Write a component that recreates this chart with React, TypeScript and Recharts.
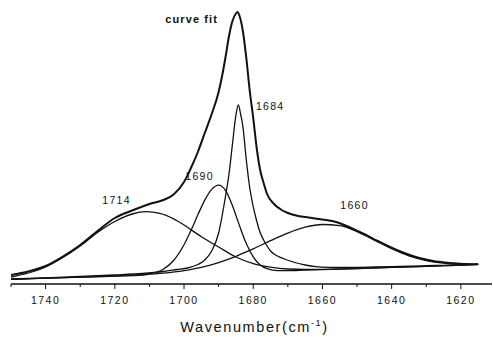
import { LineChart, Line, XAxis, YAxis, ReferenceDot } from "recharts";

// ---------------------------------------------------------------------------
// Data (intensity in arbitrary units)
// ---------------------------------------------------------------------------
const fitWavenumber = [
  1750, 1745, 1740, 1735, 1730, 1725, 1720, 1715, 1710, 1706, 1703, 1700, 1698,
  1696, 1694, 1692, 1690, 1689, 1688, 1687, 1686, 1685, 1684.5, 1684, 1683, 1682,
  1681, 1680, 1679, 1678, 1677, 1676, 1674, 1672, 1670, 1667, 1664, 1660, 1656,
  1652, 1648, 1644, 1640, 1636, 1632, 1628, 1624, 1620, 1615,
];
const fitIntensity = [
  9, 12.5, 18, 27.5, 39, 53, 66, 73.5, 80, 84, 89.5, 102, 116, 132, 151, 170, 192,
  208, 227, 248, 263, 270.5, 272, 268.5, 253, 226, 193, 166, 136, 114, 101, 90, 80,
  74.5, 71, 68, 66.5, 64.5, 62, 56.5, 50, 43, 36.3, 30.5, 26, 23, 21.3, 20.3, 19.7,
];

const band1714Wavenumber = [
  1750, 1745, 1740, 1735, 1730, 1725, 1720, 1715, 1711, 1707, 1703, 1700, 1695,
  1690, 1685, 1680, 1675, 1670, 1665, 1660, 1650, 1640, 1630, 1620, 1615,
];
const band1714Intensity = [
  7, 11, 17, 26.5, 38, 51.5, 62.5, 70, 72.3, 70.6, 65.1, 59, 47.3, 37, 27, 20.4,
  16.8, 15, 14.6, 14.7, 15.5, 16.6, 17.7, 18.8, 19.7,
];

const band1690Wavenumber = [
  1750, 1740, 1730, 1720, 1712, 1710, 1706, 1703, 1700, 1698, 1696, 1694, 1692,
  1690, 1688, 1686, 1684, 1682, 1680, 1678, 1676, 1673, 1670, 1665, 1660, 1650,
  1640, 1630, 1620, 1615,
];
const band1690Intensity = [
  4.7, 5.8, 6.9, 7.9, 8.8, 10.1, 14.8, 23.5, 39.2, 53.4, 69.2, 83.9, 94.6, 98.9,
  93.6, 78.2, 58.6, 40.4, 27.1, 19.1, 15.3, 13.4, 13.4, 13.9, 14.4, 15.5, 16.6,
  17.7, 18.8, 19.7,
];

const band1684Wavenumber = [
  1750, 1740, 1730, 1720, 1712, 1706, 1702, 1699, 1696, 1694, 1692, 1690, 1689,
  1688, 1687, 1686, 1685, 1684.3, 1683.6, 1683, 1682, 1681, 1680, 1679, 1678, 1677,
  1676, 1675, 1673, 1671, 1668, 1665, 1662, 1658, 1654, 1650, 1645, 1640, 1635,
  1630, 1625, 1620, 1615,
];
const band1684Intensity = [
  5, 6.2, 7.5, 9, 10.5, 12.5, 14.5, 16, 19.5, 24, 33, 51, 68, 88, 110, 140, 169,
  179, 169, 158, 124, 96, 77.3, 63, 51.5, 44, 38, 33, 28, 25, 21.5, 19, 17.3, 16.6,
  16.5, 16.7, 17, 17.4, 17.8, 18.3, 18.7, 19.2, 19.7,
];

const band1660Wavenumber = [
  1750, 1740, 1730, 1720, 1712, 1706, 1700, 1695, 1690, 1685, 1680, 1675, 1670,
  1665, 1660, 1655, 1650, 1645, 1640, 1635, 1630, 1625, 1620, 1615,
];
const band1660Intensity = [
  4.7, 5.8, 6.9, 8, 9.4, 10.9, 13.4, 16.6, 21.4, 27.6, 35.2, 43.3, 50.9, 56.8, 59.5,
  58.3, 52.4, 43.9, 35.3, 28.2, 23.5, 20.9, 19.8, 19.7,
];

const majorTicks = [1740, 1720, 1700, 1680, 1660, 1640, 1620];
const allTicks = [1750, 1740, 1730, 1720, 1710, 1700, 1690, 1680, 1670, 1660, 1650, 1640, 1630, 1620];

const annotations = [
  { text: "curve fit", w: 1697.8, h: 265, bold: true },
  { text: "1684", w: 1675.1, h: 177.5, bold: false },
  { text: "1690", w: 1695.5, h: 108, bold: false },
  { text: "1714", w: 1719.5, h: 84, bold: false },
  { text: "1660", w: 1650.7, h: 78.5, bold: false },
];

const toPoints = (w: number[], h: number[]) => w.map((x, i) => ({ w: x, h: h[i] }));

const FONT = "'Liberation Sans', Arial, sans-serif";
const INK = "#111";

// ---------------------------------------------------------------------------
// Custom tick: long tick + label every 20, short tick every 10
// ---------------------------------------------------------------------------
function WaveTick(props: { x?: number; y?: number; payload?: { value: number } }) {
  const { x = 0, y = 0, payload } = props;
  const v = payload?.value ?? 0;
  const major = majorTicks.includes(v);
  return (
    <g>
      <line x1={x} x2={x} y1={y} y2={y + (major ? 5 : 3)} stroke={INK} strokeWidth={1} />
      {major && (
        <text
          x={x}
          y={y + 20}
          textAnchor="middle"
          fill={INK}
          fontSize={10.5}
          letterSpacing={1.5}
          fontFamily={FONT}
        >
          {v}
        </text>
      )}
    </g>
  );
}

function AxisTitle(props: { viewBox?: { x: number; y: number; width: number } }) {
  const vb = props.viewBox ?? { x: 0, y: 0, width: 0 };
  return (
    <text
      x={vb.x + vb.width / 2 + 3}
      y={vb.y + 47.5}
      textAnchor="middle"
      fill={INK}
      fontSize={14.5}
      letterSpacing={1.6}
      fontFamily={FONT}
    >
      <tspan>Wavenumber(cm</tspan>
      <tspan dy={-6} fontSize={9}>
        -1
      </tspan>
      <tspan dy={6}>)</tspan>
    </text>
  );
}

export default function App() {
  const series = [
    { key: "1714", data: toPoints(band1714Wavenumber, band1714Intensity), width: 1.3 },
    { key: "1690", data: toPoints(band1690Wavenumber, band1690Intensity), width: 1.3 },
    { key: "1684", data: toPoints(band1684Wavenumber, band1684Intensity), width: 1.3 },
    { key: "1660", data: toPoints(band1660Wavenumber, band1660Intensity), width: 1.3 },
    { key: "fit", data: toPoints(fitWavenumber, fitIntensity), width: 2 },
  ];

  return (
    <div style={{ position: "absolute", left: 0, top: 0, background: "#fff" }}>
      <LineChart width={493} height={337} margin={{ top: 4, right: 1, left: 11, bottom: 8 }}>
        <XAxis
          dataKey="w"
          type="number"
          domain={[1611, 1750]}
          reversed
          allowDataOverflow
          ticks={allTicks}
          interval={0}
          tick={WaveTick as never}
          tickLine={false}
          tickSize={0}
          tickMargin={0}
          height={45}
          axisLine={{ stroke: INK, strokeWidth: 1.3 }}
          label={<AxisTitle />}
        />
        <YAxis type="number" domain={[0, 280]} hide allowDataOverflow />
        {series.map((s) => (
          <Line
            key={s.key}
            data={s.data}
            dataKey="h"
            type="monotone"
            stroke={INK}
            strokeWidth={s.width}
            dot={false}
            activeDot={false}
            isAnimationActive={false}
          />
        ))}
        {annotations.map((a) => (
          <ReferenceDot
            key={a.text}
            x={a.w}
            y={a.h}
            r={0}
            fill="none"
            stroke="none"
            label={{
              value: a.text,
              position: "center",
              fill: INK,
              fontSize: a.bold ? 11 : 10.5,
              fontWeight: a.bold ? 700 : 400,
              letterSpacing: a.bold ? 1.1 : 1.3,
              fontFamily: FONT,
            }}
          />
        ))}
      </LineChart>
    </div>
  );
}
